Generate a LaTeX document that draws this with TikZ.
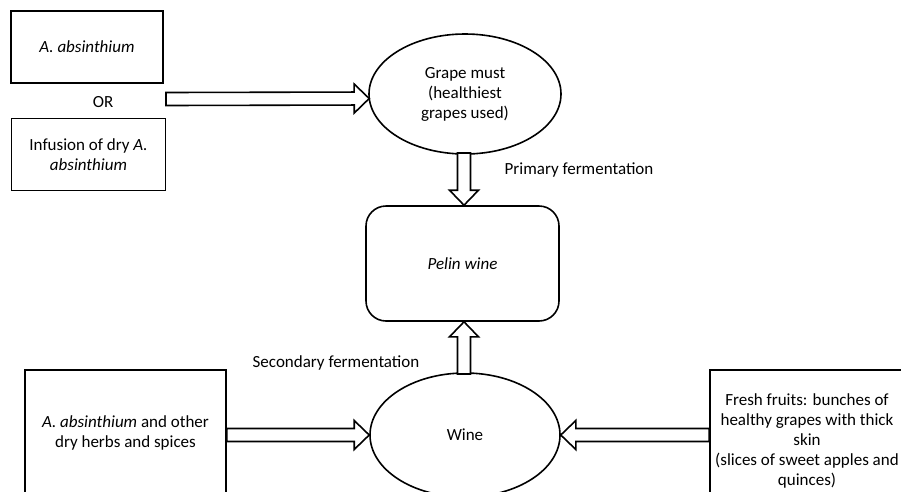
\documentclass[tikz,border=0pt]{standalone}
\usepackage{fontspec}
\setmainfont{Carlito}
\usetikzlibrary{calc,shapes.geometric}
\tikzset{
  box/.style={draw, line width=1.6pt, rectangle, align=center, inner sep=0pt},
  oval/.style={draw, line width=1.6pt, ellipse, align=center, inner sep=0pt},
  lbl/.style={inner sep=0pt, align=center},
  barrow/.style={draw, line width=1.6pt, fill=white, line join=miter},
  every node/.style={font=\fontsize{17}{20}\selectfont}
}
\newcommand\blockarr[2]{%
  \coordinate (hb) at ($(#2)!15pt!(#1)$);
  \draw[barrow] ($(#1)!6.5pt!90:(#2)$) -- ($(hb)!6.5pt!90:(#2)$) -- ($(hb)!14.5pt!90:(#2)$) -- (#2)
    -- ($(hb)!14.5pt!-90:(#2)$) -- ($(hb)!6.5pt!-90:(#2)$) -- ($(#1)!6.5pt!-90:(#2)$) -- cycle;
}
\begin{document}
\begin{tikzpicture}[x=1pt,y=-1pt]
\useasboundingbox (0,0) rectangle (901,491);
\clip (0,0) rectangle (901,491);
% nodes
\node[box, minimum width=152pt, minimum height=72pt] (absA) at (87,47) {\textit{A. absinthium}};
\node[lbl] (or) at (103,102) {OR};
\node[box, minimum width=154pt, minimum height=72pt] (infB) at (88.5,154.5) {Infusion of dry \textit{A.}\\\textit{absinthium}};
\node[oval, minimum width=192pt, minimum height=120pt] (must) at (465,94) {Grape must\\(healthiest\\grapes used)};
\node[lbl] (prim) at (579,170) {Primary fermentation};
\node[box, rounded corners=20pt, minimum width=193pt, minimum height=115pt] (pelin) at (462.5,263.5) {\textit{Pelin wine}};
\node[lbl] (sec) at (336,363) {Secondary fermentation};
\node[oval, minimum width=190pt, minimum height=124pt] (wine) at (465,435) {Wine};
\node[box, minimum width=201pt, minimum height=126pt] (herbs) at (125.5,433) {\textit{A. absinthium} and other\\dry herbs and spices};
\node[box, minimum width=194pt, minimum height=142pt] (fruit) at (807,441) {Fresh fruits: bunches of\\healthy grapes with thick\\skin\\(slices of sweet apples and\\quinces)};
% connectors
\coordinate (orstart) at (166,99);
\coordinate (mustin) at ($(must.west)+(1,4.5)$);
\blockarr{orstart}{mustin}
\coordinate (mustout) at (464,153);
\coordinate (pelinin) at (pelin.north -| mustout);
\blockarr{mustout}{pelinin}
\coordinate (wineout) at (464,374);
\coordinate (pelinbot) at (pelin.south -| wineout);
\blockarr{wineout}{pelinbot}
\coordinate (herbout) at (herbs.east |- wine.west);
\blockarr{herbout}{wine.west}
\coordinate (fruitout) at (fruit.west |- wine.east);
\blockarr{fruitout}{wine.east}
\end{tikzpicture}
\end{document}
